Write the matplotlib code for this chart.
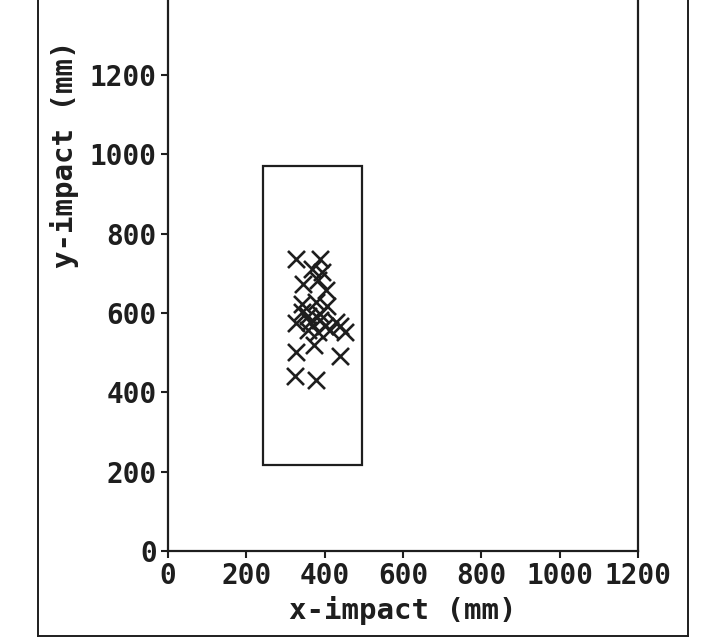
import matplotlib.pyplot as plt
from matplotlib.patches import Rectangle

# impact points (mm)
x_impact = [327, 388, 393, 344, 383, 403, 342, 378, 357, 388, 406, 327, 363, 388,
            429, 357, 383, 414, 439, 452, 373, 327, 439, 324, 378, 342, 368, 401]
y_impact = [736, 736, 703, 673, 683, 658, 623, 628, 593, 598, 618, 575, 577, 582,
            577, 557, 552, 557, 567, 552, 519, 501, 491, 441, 431, 603, 711, 567]

# target zone (mm)
zone_x = [243, 495]
zone_y = [218, 970]

x_ticks = [0, 200, 400, 600, 800, 1000, 1200]
y_ticks = [0, 200, 400, 600, 800, 1000, 1200]

ink = '#1e1e1e'
font = dict(family='DejaVu Sans Mono', fontweight='bold', color=ink)

fig = plt.figure(figsize=(7.26, 6.41), dpi=100)
ax = fig.add_axes([0.2314, 0.1404, 0.6474, 0.8596])

ax.scatter(x_impact, y_impact, marker='x', s=150, linewidths=1.9, color=ink, zorder=3)
ax.add_patch(Rectangle((zone_x[0], zone_y[0]), zone_x[1] - zone_x[0], zone_y[1] - zone_y[0],
                       fill=False, edgecolor=ink, linewidth=1.6))

ax.set_xlim(0, 1200)
ax.set_ylim(0, 1389)
ax.set_xticks(x_ticks)
ax.set_yticks(y_ticks)
ax.set_xticklabels([str(v) for v in x_ticks], fontsize=20, **font)
ax.set_yticklabels([str(v) for v in y_ticks], fontsize=20, **font)
ax.tick_params(length=5, width=1.5, color=ink, pad=3)

ax.spines['top'].set_visible(False)
for s in ['left', 'right', 'bottom']:
    ax.spines[s].set_linewidth(1.6)
    ax.spines[s].set_color(ink)

ax.set_xlabel('x-impact (mm)', fontsize=21, labelpad=4, **font)
ax.set_ylabel('y-impact (mm)', fontsize=21, **font)
ax.yaxis.set_label_coords(-0.19, 0.72)

# outer frame around the plot
fl, fr, fb = 38 / 726, 688 / 726, 5 / 641
fig.add_artist(plt.Line2D([fl, fl], [fb, 1], color=ink, lw=1.4, transform=fig.transFigure))
fig.add_artist(plt.Line2D([fr, fr], [fb, 1], color=ink, lw=1.4, transform=fig.transFigure))
fig.add_artist(plt.Line2D([fl, fr], [fb, fb], color=ink, lw=1.4, transform=fig.transFigure))

fig.savefig('out.png', dpi=100)
